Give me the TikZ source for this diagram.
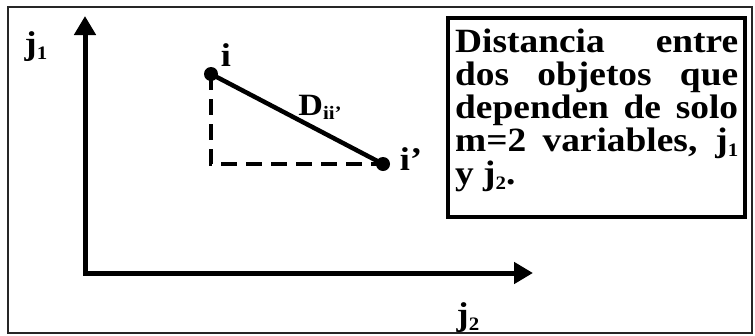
\documentclass[tikz,border=0pt]{standalone}
\usepackage{fontspec}
\setmainfont{Liberation Serif}
\newfontfamily\widefont[FakeStretch=1.1]{Liberation Serif}
\usetikzlibrary{arrows.meta}
\newcommand\lowsub[1]{{\fontsize{19}{19}\selectfont\raisebox{-5pt}{#1}}}
\begin{document}
\begin{tikzpicture}[x=1pt,y=-1pt,
  axis/.style={line width=5pt, line join=miter, {Triangle[length=19pt,width=21pt]}-{Triangle[length=19pt,width=21pt]}},
  thick line/.style={line width=4.5pt},
  dashline/.style={line width=4.5pt, dash pattern=on 16pt off 9pt},
  dot/.style={circle, fill=black, minimum size=14pt, inner sep=0pt},
  lbl/.style={font=\widefont\bfseries\fontsize{33}{33}\selectfont, inner sep=0pt},
  frame/.style={draw, line width=4.5pt, minimum width=297pt, minimum height=199pt, inner sep=0pt},
  desc/.style={font=\widefont\bfseries\fontsize{34}{33}\selectfont, text width=283pt, align=justify, inner sep=0pt}
]
\useasboundingbox (0,0) rectangle (755,335);
\draw[line width=2pt, draw=black!85] (8,7) rectangle (752,333);

% axes
\coordinate (ytip) at (85,16);
\coordinate (orig) at (85,273);
\coordinate (xtip) at (533,273);
\draw[axis] (ytip) -- (orig) -- (xtip);
\node[lbl] (j1) at (36,47) {j\lowsub{1}};
\node[lbl] (j2) at (468,318) {j\lowsub{2}};

% points
\node[dot] (pi) at (211,74) {};
\node[dot] (pip) at (383,164) {};
\draw[dashline] (pi.center) |- (pip.center);
\draw[thick line] (pi.center) -- (pip.center);
\node[lbl] (li) at (226,55) {i};
\node[lbl] (lip) at (411,159) {i’};
\node[lbl, font=\widefont\bfseries\fontsize{31}{31}\selectfont] (dlab) at (320,107) {D{\fontsize{19}{19}\selectfont\raisebox{-4pt}{ii’}}};

% description box
\node[frame] (box) at (596.5,117.5) {};
\node[desc, anchor=north west] (txt) at (455,29) {Distancia entre\linebreak dos objetos que\linebreak dependen de solo\linebreak m=2 variables, j\lowsub{1}\linebreak y j\lowsub{2}.};
\end{tikzpicture}
\end{document}
